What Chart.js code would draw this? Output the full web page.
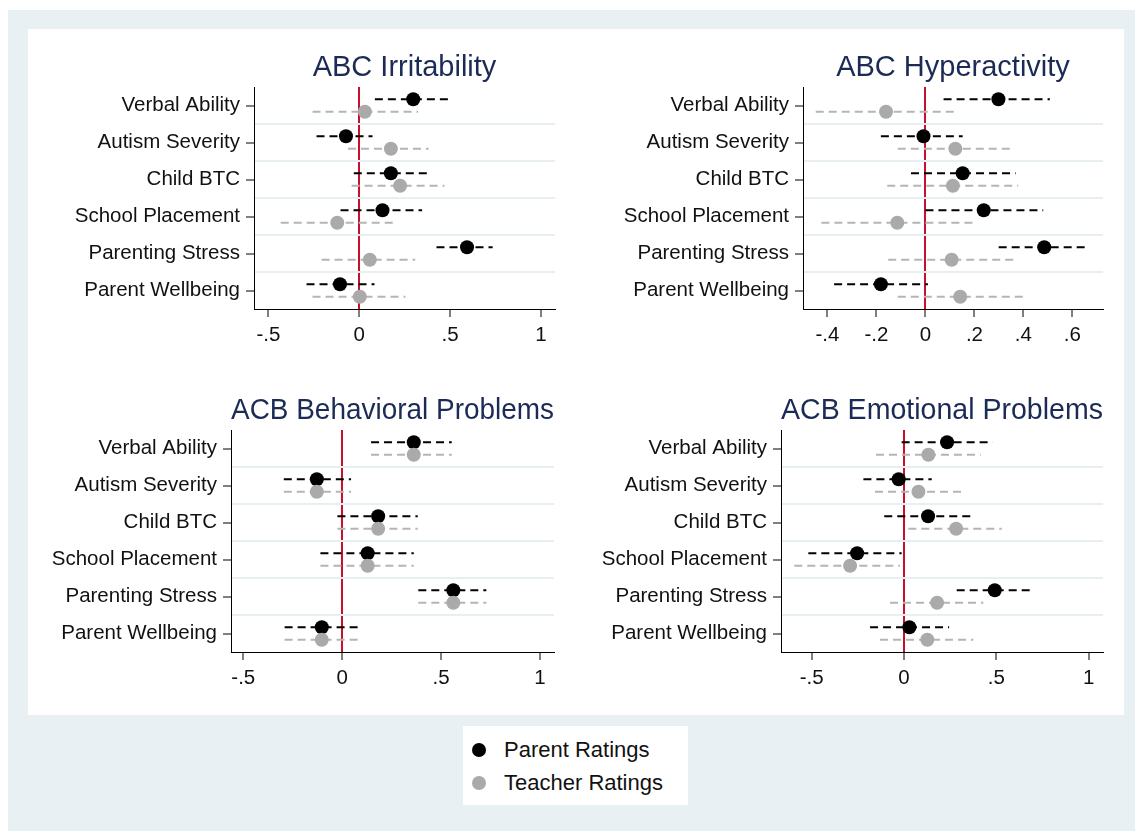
<!DOCTYPE html>
<html>
<head>
<meta charset="utf-8">
<script src="https://cdn.jsdelivr.net/npm/chart.js@4.4.0/dist/chart.umd.min.js"></script>
<style>
  body { margin: 0; background: #fff; }
  #page { position: relative; width: 1135px; height: 831px; overflow: hidden; font-family: "Liberation Sans", Arial, sans-serif; }
  #outer { position: absolute; left: 8px; top: 10px; right: 0; bottom: 0; background: #e8f0f3; }
  #inner { position: absolute; left: 28px; top: 29px; width: 1096px; height: 686px; background: #fff; }
  canvas { position: absolute; }
  #legend { position: absolute; left: 463px; top: 726px; width: 225px; height: 79px; background: #fff; }
  .item { position: absolute; left: 0; height: 26px; display: flex; align-items: center; font-size: 22px; color: #111; }
  .dot { width: 14px; height: 14px; border-radius: 50%; margin-left: 9px; margin-right: 18px; }
</style>
</head>
<body>
<div id="page">
  <div id="outer"></div>
  <div id="inner"></div>
  <canvas id="c1" width="521" height="309" style="left:54px;top:40px"></canvas>
  <canvas id="c2" width="520" height="309" style="left:603px;top:40px"></canvas>
  <canvas id="c3" width="543" height="309" style="left:31px;top:383px"></canvas>
  <canvas id="c4" width="542" height="309" style="left:581px;top:383px"></canvas>
  <div id="legend">
    <div class="item" style="top:11px"><span class="dot" style="background:#000"></span>Parent Ratings</div>
    <div class="item" style="top:44px"><span class="dot" style="background:#aaa"></span>Teacher Ratings</div>
  </div>
</div>
<script>
const categories = ["Verbal Ability", "Autism Severity", "Child BTC", "School Placement", "Parenting Stress", "Parent Wellbeing"];

// each row: [lower CI, estimate, upper CI]
const irritabilityParent = [[0.086, 0.297, 0.514], [-0.235, -0.073, 0.073], [-0.03, 0.174, 0.379], [-0.103, 0.128, 0.346], [0.425, 0.593, 0.734], [-0.29, -0.106, 0.084]];
const irritabilityTeacher = [[-0.257, 0.031, 0.324], [-0.062, 0.174, 0.382], [-0.042, 0.225, 0.469], [-0.432, -0.121, 0.194], [-0.207, 0.058, 0.308], [-0.257, 0.003, 0.254]];

const hyperactivityParent = [[0.074, 0.298, 0.508], [-0.182, -0.008, 0.152], [-0.059, 0.152, 0.368], [0.0, 0.238, 0.481], [0.299, 0.485, 0.67], [-0.373, -0.182, 0.01]];
const hyperactivityTeacher = [[-0.448, -0.161, 0.126], [-0.113, 0.122, 0.358], [-0.156, 0.112, 0.379], [-0.425, -0.115, 0.197], [-0.152, 0.107, 0.368], [-0.113, 0.142, 0.398]];

const behavioralParent = [[0.146, 0.362, 0.554], [-0.295, -0.128, 0.045], [-0.024, 0.182, 0.382], [-0.11, 0.129, 0.362], [0.385, 0.562, 0.729], [-0.291, -0.103, 0.082]];
const behavioralTeacher = [[0.146, 0.362, 0.554], [-0.295, -0.128, 0.045], [-0.024, 0.182, 0.382], [-0.11, 0.129, 0.362], [0.385, 0.562, 0.729], [-0.291, -0.103, 0.082]];

const emotionalParent = [[-0.013, 0.233, 0.48], [-0.22, -0.029, 0.15], [-0.107, 0.13, 0.366], [-0.518, -0.254, -0.013], [0.285, 0.491, 0.695], [-0.184, 0.029, 0.244]];
const emotionalTeacher = [[-0.152, 0.132, 0.415], [-0.157, 0.078, 0.316], [0.023, 0.282, 0.529], [-0.594, -0.292, -0.022], [-0.076, 0.179, 0.429], [-0.13, 0.126, 0.375]];

const ticksHalf = [-0.5, 0, 0.5, 1];
const labelsHalf = ["-.5", "0", ".5", "1"];
const ticksFifth = [-0.4, -0.2, 0, 0.2, 0.4, 0.6];
const labelsFifth = ["-.4", "-.2", "0", ".2", ".4", ".6"];

const FONT = "'Liberation Sans', Arial, sans-serif";
const OFF = 0.17;
const n = categories.length;

function makePanel(id, title, parent, teacher, xTicks, xLabels, xMin, xMax) {
  const datasets = [
    { data: teacher.map((r, i) => ({ x: r[1], y: i + 1 + OFF })), pointRadius: 7, pointBackgroundColor: "#aaa", pointBorderWidth: 0 },
    { data: parent.map((r, i) => ({ x: r[1], y: i + 1 - OFF })), pointRadius: 7, pointBackgroundColor: "#000", pointBorderWidth: 0 },
  ];
  parent.forEach((r, i) => {
    datasets.push({ data: [{ x: r[0], y: i + 1 - OFF }, { x: r[2], y: i + 1 - OFF }], showLine: true, borderColor: "#000", borderWidth: 2, borderDash: [8, 5], pointRadius: 0 });
  });
  teacher.forEach((r, i) => {
    datasets.push({ data: [{ x: r[0], y: i + 1 + OFF }, { x: r[2], y: i + 1 + OFF }], showLine: true, borderColor: "#b5b5b5", borderWidth: 2, borderDash: [8, 5], pointRadius: 0 });
  });

  new Chart(document.getElementById(id), {
    type: "scatter",
    data: { datasets },
    options: {
      responsive: false,
      animation: false,
      layout: { padding: { top: 11, right: 20, left: 0, bottom: 0 } },
      plugins: {
        legend: { display: false },
        tooltip: { enabled: false },
        title: {
          display: true,
          text: title,
          fullSize: false,
          color: "#1c2b56",
          font: { family: FONT, size: 29, weight: "normal", lineHeight: "34px" },
          padding: { top: 0, bottom: 2 },
        },
      },
      scales: {
        x: {
          type: "linear",
          min: xMin,
          max: xMax,
          afterBuildTicks: (s) => { s.ticks = xTicks.map((v) => ({ value: v })); },
          afterFit: (s) => { s.height = 40; },
          ticks: {
            callback: (v, i) => xLabels[i],
            color: "#111",
            font: { family: FONT, size: 20.5 },
            padding: 6,
            maxRotation: 0,
            autoSkip: false,
          },
          grid: {
            color: (c) => (c.tick && c.tick.value === 0 ? "#c8102e" : "rgba(0,0,0,0)"),
            lineWidth: 2,
            tickColor: "#000",
            tickWidth: 1,
            tickLength: 8,
          },
          border: { color: "#000", width: 1 },
        },
        y: {
          type: "linear",
          reverse: true,
          min: 0.5,
          max: n + 0.5,
          afterBuildTicks: (s) => {
            const t = [];
            for (let v = 0.5; v <= n + 0.5; v += 0.5) t.push({ value: v });
            s.ticks = t;
          },
          afterFit: (s) => { s.width = 200; },
          ticks: {
            callback: (v) => (Number.isInteger(v) ? categories[v - 1] : ""),
            color: "#111",
            font: { family: FONT, size: 20.5 },
            padding: 6,
            autoSkip: false,
          },
          grid: {
            color: (c) => (c.tick && !Number.isInteger(c.tick.value) && c.tick.value > 0.5 && c.tick.value < n + 0.5 ? "#e7eff2" : "rgba(0,0,0,0)"),
            lineWidth: 2,
            tickColor: (c) => (c.tick && Number.isInteger(c.tick.value) ? "#000" : "rgba(0,0,0,0)"),
            tickWidth: 1,
            tickLength: 8,
          },
          border: { color: "#000", width: 1 },
        },
      },
    },
  });
}

makePanel("c1", "ABC Irritability", irritabilityParent, irritabilityTeacher, ticksHalf, labelsHalf, -0.579, 1.077);
makePanel("c2", "ABC Hyperactivity", hyperactivityParent, hyperactivityTeacher, ticksFifth, labelsFifth, -0.5, 0.725);
makePanel("c3", "ACB Behavioral Problems", behavioralParent, behavioralTeacher, ticksHalf, labelsHalf, -0.562, 1.071);
makePanel("c4", "ACB Emotional Problems", emotionalParent, emotionalTeacher, ticksHalf, labelsHalf, -0.666, 1.077);
</script>
</body>
</html>
